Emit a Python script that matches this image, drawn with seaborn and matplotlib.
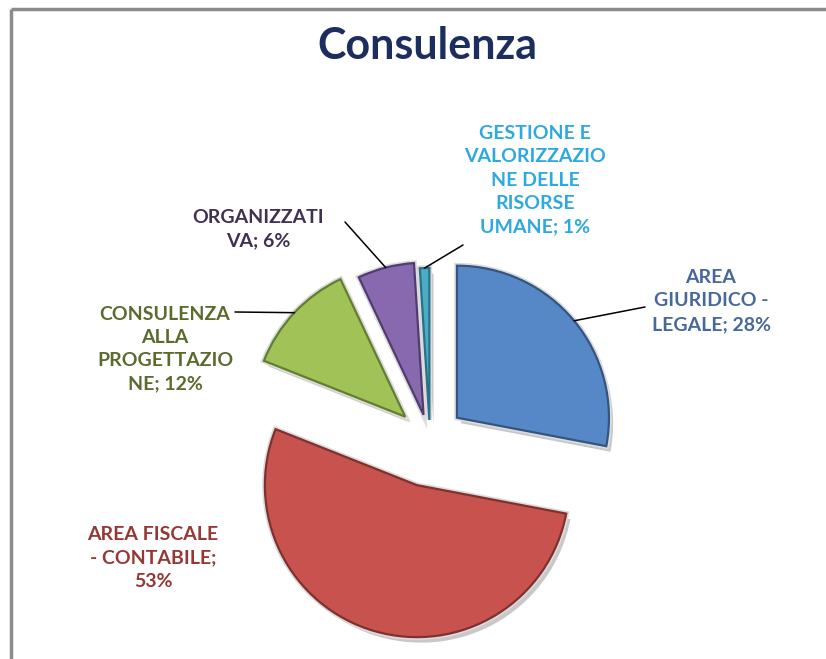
import numpy as np
import matplotlib
matplotlib.use("Agg")
import matplotlib.pyplot as plt
import matplotlib.patheffects as pe
import seaborn as sns

sns.set_theme(style="white")
plt.rcParams['font.family'] = ['Lato', 'DejaVu Sans']

# data (percent), clockwise from 12 o'clock
categories = ["AREA GIURIDICO - LEGALE", "AREA FISCALE - CONTABILE",
              "CONSULENZA ALLA PROGETTAZIONE", "ORGANIZZATIVA",
              "GESTIONE E VALORIZZAZIONE DELLE RISORSE UMANE"]
values = [28, 53, 12, 6, 1]
labels = ["AREA\nGIURIDICO -\nLEGALE; 28%",
          "AREA FISCALE\n- CONTABILE;\n53%",
          "CONSULENZA\nALLA\nPROGETTAZIO\nNE; 12%",
          "ORGANIZZATI\nVA; 6%",
          "GESTIONE E\nVALORIZZAZIO\nNE DELLE\nRISORSE\nUMANE; 1%"]
colors = ["#5688C8", "#C8524E", "#A0C257", "#8868AE", "#4BACC6"]
edge_colors = ["#34557F", "#80302E", "#637E30", "#503C6E", "#2A7088"]
label_colors = ["#46689A", "#953735", "#5A6B2C", "#403152", "#2DA9DF"]

W, H = 826, 659
R = 152
cx, cy = 430, H - 440
# explode distance in pixels (pie offsets are in data units)
explode = [35, 47, 34, 26, 20]

fig = plt.figure(figsize=(W / 100, H / 100), dpi=100)
ax = fig.add_axes([0, 0, 1, 1])

wedges, _ = ax.pie(values, colors=colors, explode=explode, startangle=90,
                   counterclock=False, radius=R, center=(cx, cy),
                   wedgeprops=dict(linewidth=1.6))
for w, ec in zip(wedges, edge_colors):
    w.set_edgecolor(ec)
    w.set_path_effects([pe.SimplePatchShadow(offset=(3, -4), shadow_rgbFace="#777777", alpha=0.4),
                        pe.Stroke(linewidth=4, foreground="#dcdcdc"),
                        pe.Normal()])

ax.set_xlim(0, W)
ax.set_ylim(0, H)
ax.set_aspect('auto')
ax.axis('off')

# label placement (pixel coords, y from top) and leader line ends
label_pos = [(711, 301), (153, 558), (165, 349), (258, 229), (535, 180)]
leader_end = [(645, 307), None, (235, 312), (345, 222), (463, 245)]

for i, w in enumerate(wedges):
    x, y = label_pos[i]
    ax.text(x, H - y, labels[i], ha='center', va='center', fontsize=14,
            fontweight='bold', color=label_colors[i], linespacing=1.45)
    if leader_end[i] is not None:
        mid = np.deg2rad((w.theta1 + w.theta2) / 2)
        ax0 = w.center[0] + w.r * np.cos(mid)
        ay0 = w.center[1] + w.r * np.sin(mid)
        ex, ey = leader_end[i]
        ax.plot([ax0, ex], [ay0, H - ey], color="black", lw=1.1)

ax.text(427, H - 46, "Consulenza", ha='center', va='center', fontsize=31,
        fontweight='bold', color="#1B2E5E")

# frame border (top and left, as in the screenshot)
ax.plot([11, W], [H - 9, H - 9], color="#8c8c8c", lw=2.5, solid_capstyle='butt')
ax.plot([11, 11], [H - 9, 0], color="#8c8c8c", lw=2.5, solid_capstyle='butt')

fig.savefig("out.png", dpi=100)
